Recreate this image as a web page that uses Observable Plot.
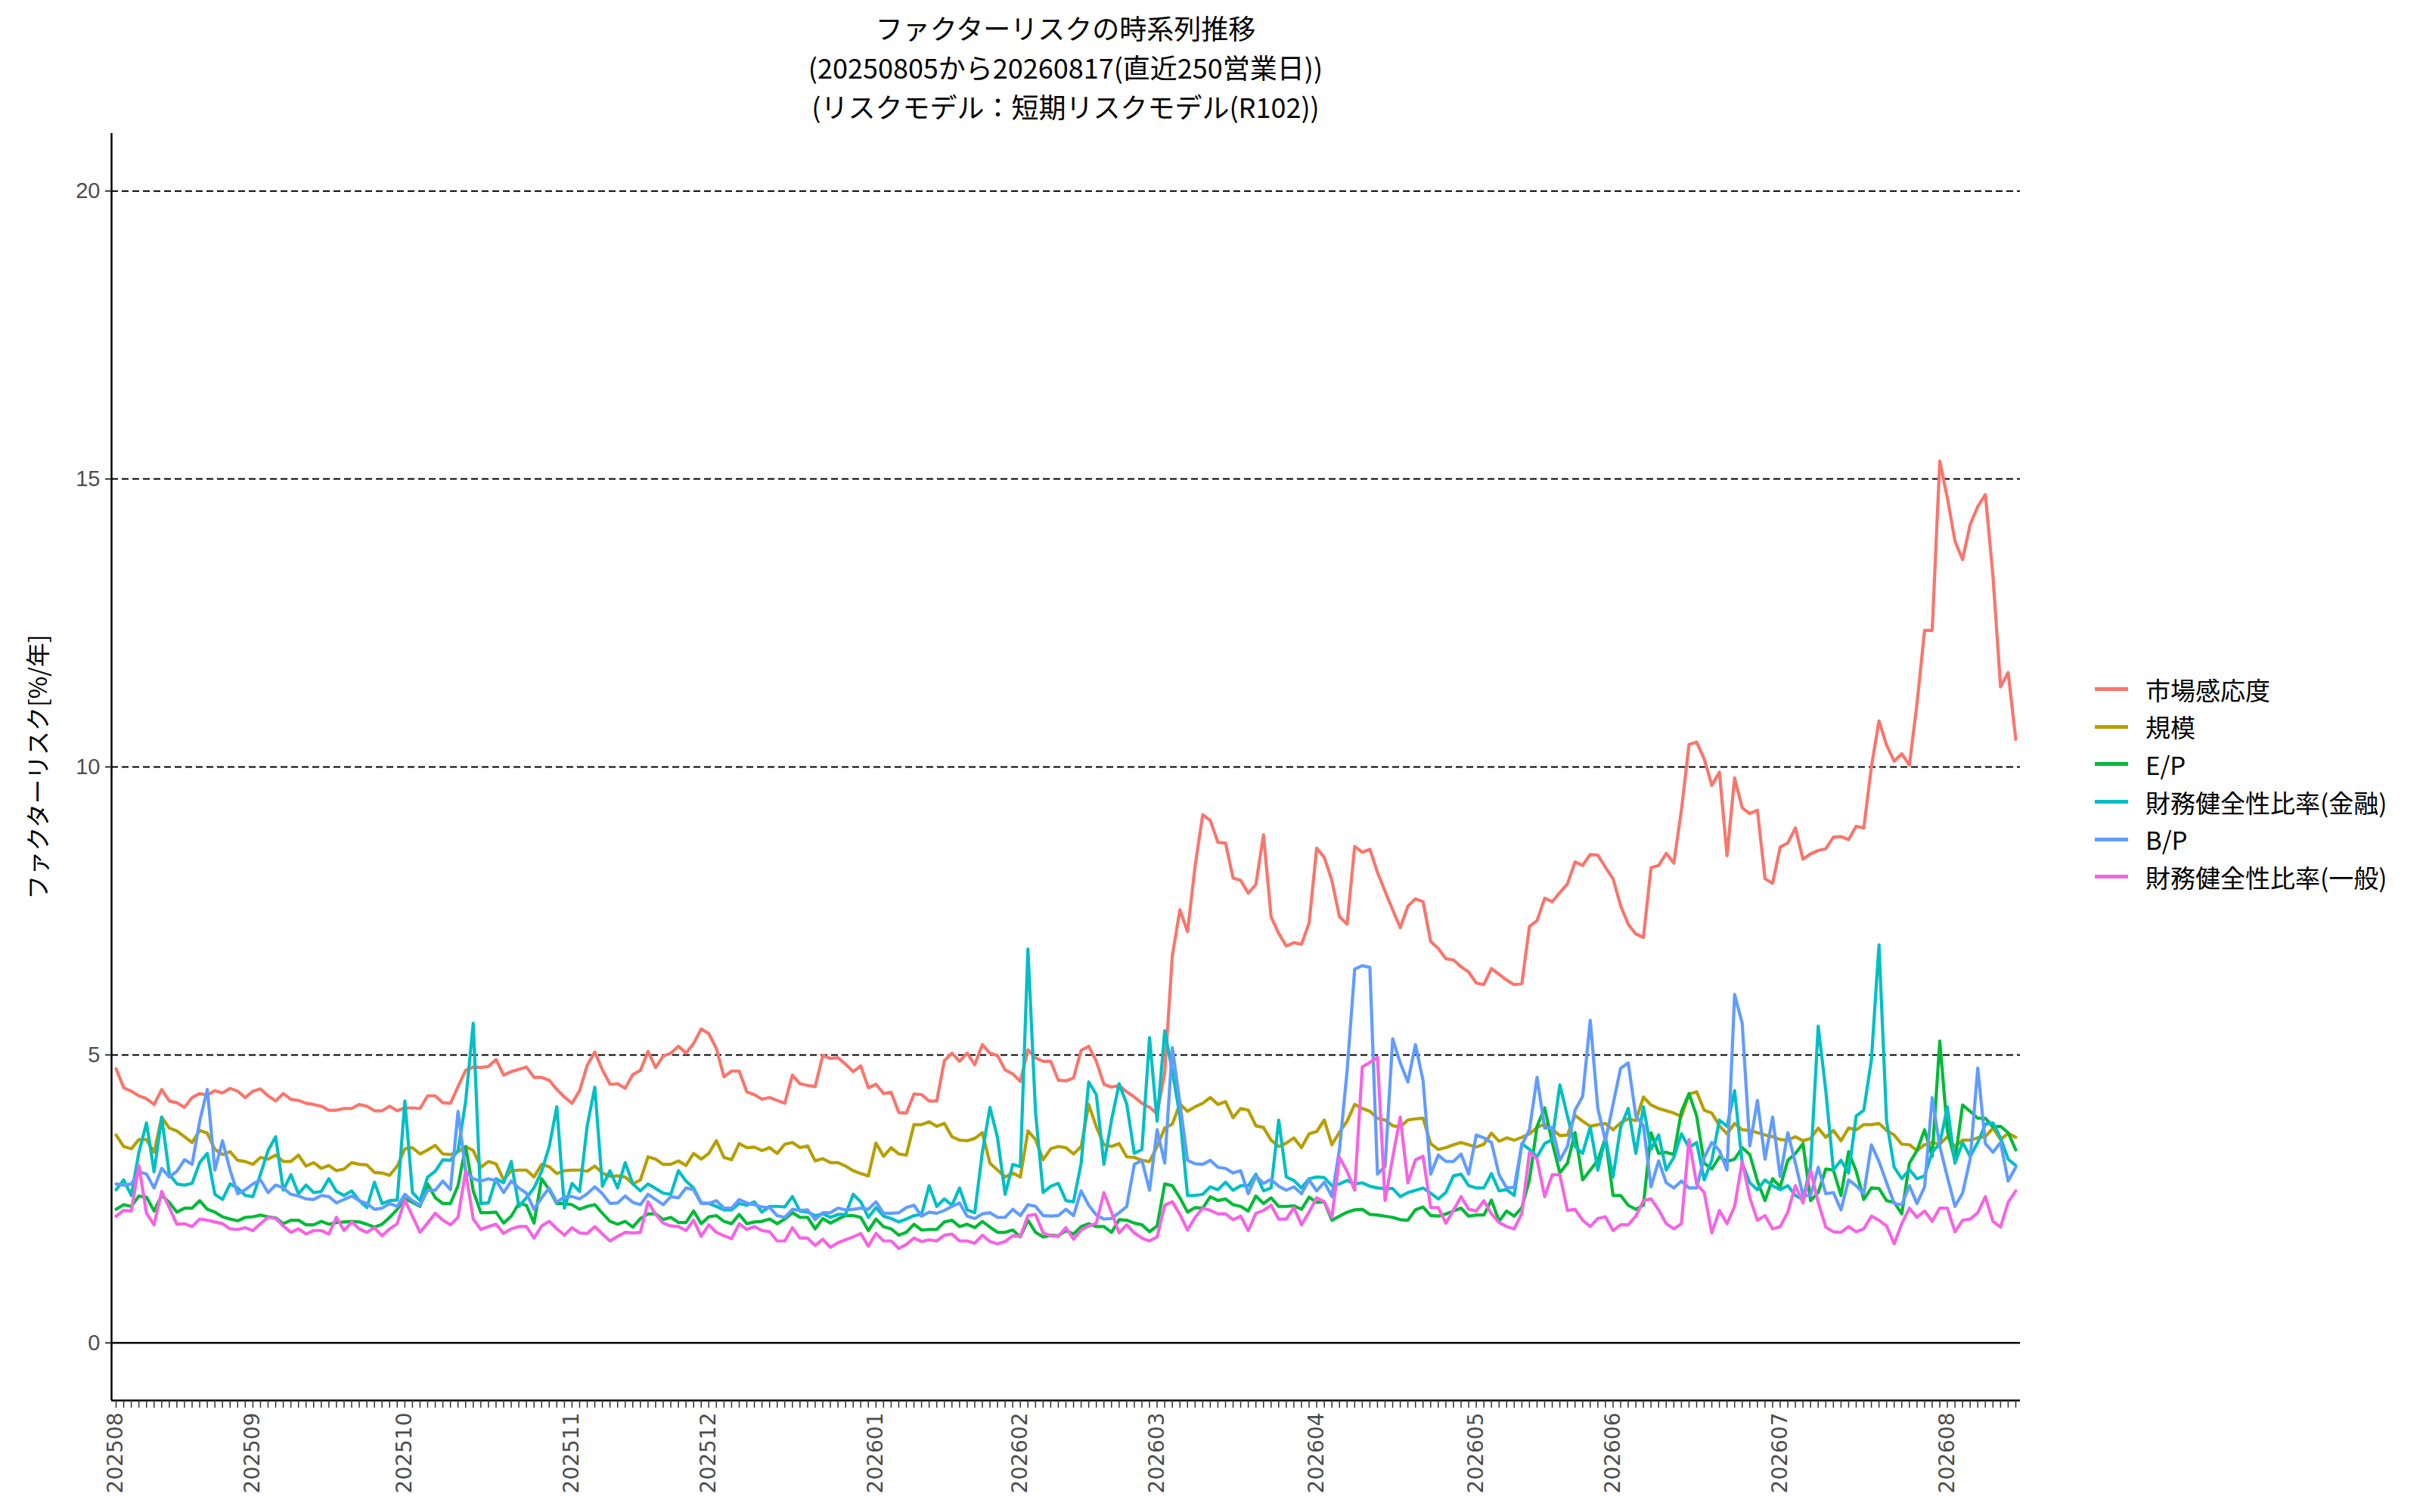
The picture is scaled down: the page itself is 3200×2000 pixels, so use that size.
<!DOCTYPE html>
<html><head><meta charset="utf-8">
<script src="https://cdn.jsdelivr.net/npm/d3@7"></script>
<script src="https://cdn.jsdelivr.net/npm/@observablehq/plot@0.6"></script>
<style>
html,body{margin:0;padding:0;background:#fff;}
#wrap{position:relative;width:3200px;height:2000px;font-family:"Noto Sans CJK JP","Noto Sans",sans-serif;background:#fff;}
#title{position:absolute;z-index:3;left:147px;width:2524px;top:10px;text-align:center;font-size:36px;line-height:52px;color:#000;}
#chart{position:absolute;z-index:1;left:0;top:150px;width:3200px;height:1850px;}
#legend{position:absolute;z-index:3;left:2770px;top:887px;font-size:33px;color:#000;}
.row{height:49.6px;display:flex;align-items:center;white-space:nowrap;}
.key{width:44px;height:5px;margin-right:23px;flex:none;}
</style></head>
<body><div id="wrap"><div id="chart"></div><div id="title"></div><div id="legend"></div></div>
<script>
const titleLines = ["ファクターリスクの時系列推移", "(20250805から20260817(直近250営業日))", "(リスクモデル：短期リスクモデル(R102))"];
const yTitle = "ファクターリスク[%/年]";
const seriesNames = ["市場感応度", "規模", "E/P", "財務健全性比率(金融)", "B/P", "財務健全性比率(一般)"];
const seriesColors = ["#F8766D", "#B79F00", "#00BA38", "#00BFC4", "#619CFF", "#F564E3"];
const yTicks = [0, 5, 10, 15, 20];
const dashedLevels = [5, 10, 15, 20];
const monthLabels = ["202508","202509","202510","202511","202512","202601","202602","202603","202604","202605","202606","202607","202608"];

const dates = ("20250805 20250806 20250807 20250808 20250812 20250813 20250814 20250815 20250818 20250819 20250820 20250821 20250822 20250825 20250826 20250827 20250828 20250829 " +
"20250901 20250902 20250903 20250904 20250905 20250908 20250909 20250910 20250911 20250912 20250916 20250917 20250918 20250919 20250922 20250924 20250925 20250926 20250929 20250930 " +
"20251001 20251002 20251003 20251006 20251007 20251008 20251009 20251010 20251014 20251015 20251016 20251017 20251020 20251021 20251022 20251023 20251024 20251027 20251028 20251029 20251030 20251031 " +
"20251104 20251105 20251106 20251107 20251110 20251111 20251112 20251113 20251114 20251117 20251118 20251119 20251120 20251121 20251125 20251126 20251127 20251128 " +
"20251201 20251202 20251203 20251204 20251205 20251208 20251209 20251210 20251211 20251212 20251215 20251216 20251217 20251218 20251219 20251222 20251223 20251224 20251225 20251226 20251229 20251230 " +
"20260105 20260106 20260107 20260108 20260109 20260113 20260114 20260115 20260116 20260119 20260120 20260121 20260122 20260123 20260126 20260127 20260128 20260129 20260130 " +
"20260202 20260203 20260204 20260205 20260206 20260209 20260210 20260212 20260213 20260216 20260217 20260218 20260219 20260220 20260224 20260225 20260226 20260227 " +
"20260302 20260303 20260304 20260305 20260306 20260309 20260310 20260311 20260312 20260313 20260316 20260317 20260318 20260319 20260323 20260324 20260325 20260326 20260327 20260330 20260331 " +
"20260401 20260402 20260403 20260406 20260407 20260408 20260409 20260410 20260413 20260414 20260415 20260416 20260417 20260420 20260421 20260422 20260423 20260424 20260427 20260428 20260430 " +
"20260501 20260507 20260508 20260511 20260512 20260513 20260514 20260515 20260518 20260519 20260520 20260521 20260522 20260525 20260526 20260527 20260528 20260529 " +
"20260601 20260602 20260603 20260604 20260605 20260608 20260609 20260610 20260611 20260612 20260615 20260616 20260617 20260618 20260619 20260622 20260623 20260624 20260625 20260626 20260629 20260630 " +
"20260701 20260702 20260703 20260706 20260707 20260708 20260709 20260710 20260713 20260714 20260715 20260716 20260717 20260721 20260722 20260723 20260724 20260727 20260728 20260729 20260730 20260731 " +
"20260803 20260804 20260805 20260806 20260807 20260810 20260812 20260813 20260814 20260817").split(" ");

const market = [
4.76,4.43,4.37,4.29,4.24,4.14,4.40,4.20,4.17,4.09,
4.26,4.33,4.30,4.38,4.34,4.42,4.37,4.26,4.37,4.41,
4.29,4.20,4.33,4.23,4.21,4.16,4.14,4.11,4.04,4.04,
4.07,4.07,4.14,4.11,4.03,4.03,4.11,4.03,4.08,4.08,
4.07,4.29,4.29,4.17,4.16,4.45,4.73,4.79,4.78,4.80,
4.92,4.65,4.71,4.75,4.79,4.61,4.61,4.56,4.40,4.27,
4.16,4.38,4.82,5.05,
4.74,4.49,4.50,4.42,4.66,4.73,5.06,4.78,4.98,5.03,
5.15,5.03,5.20,5.45,5.37,5.11,4.62,4.72,4.72,4.36,
4.31,4.23,4.26,4.21,4.16,4.65,4.50,4.47,4.45,4.99,
4.94,4.95,4.84,4.71,4.81,4.43,4.49,4.33,4.35,4.00,
3.99,4.32,4.31,4.20,4.20,4.90,5.03,4.89,5.03,4.83,
5.18,5.03,4.99,4.74,4.67,4.54,5.09,4.95,4.89,4.89,
4.56,4.55,4.60,5.08,
5.15,4.89,4.49,4.44,4.47,4.36,4.27,4.16,4.09,3.98,
4.69,6.72,7.52,7.14,8.28,9.17,9.07,8.69,8.68,8.07,
8.03,7.81,7.96,8.82,7.40,7.11,6.89,6.95,6.92,7.29,
8.59,8.43,8.03,7.40,7.27,8.62,8.52,8.57,8.17,7.84,
7.52,7.21,7.58,7.71,7.66,6.97,6.85,6.67,6.65,6.53,
6.44,6.25,6.22,6.50,6.40,6.30,6.22,6.24,7.23,7.33,
7.72,7.66,7.82,7.97,
8.35,8.29,8.48,8.47,8.26,8.06,7.59,7.27,7.10,7.04,
8.25,8.29,8.50,8.33,9.25,10.39,10.43,10.14,9.68,9.91,
8.46,9.81,9.29,9.19,9.25,8.06,7.98,8.61,8.68,8.94,
8.40,8.49,8.55,8.58,8.78,8.79,8.74,8.97,8.94,10.00,
10.80,10.38,10.10,10.23,10.03,11.10,12.37,12.37,15.31,14.67,
13.92,13.60,14.21,14.52,14.73,13.31,11.39,11.64,10.48];

const size = [
3.61,3.41,3.37,3.53,3.53,3.31,3.92,3.73,3.68,3.58,
3.48,3.69,3.64,3.36,3.27,3.32,3.17,3.15,3.10,3.22,
3.19,3.26,3.15,3.15,3.26,3.07,3.13,3.03,3.08,2.99,
3.02,3.13,3.10,3.09,2.96,2.95,2.91,3.07,3.37,3.39,
3.28,3.35,3.43,3.28,3.27,3.32,3.41,3.34,3.05,3.15,
3.11,2.83,2.99,3.00,3.00,2.88,3.10,3.06,2.94,2.99,
3.00,3.00,2.98,3.07,
2.95,2.89,2.90,2.88,2.76,2.83,3.23,3.19,3.10,3.10,
3.16,3.08,3.29,3.19,3.29,3.51,3.22,3.18,3.46,3.39,
3.40,3.34,3.39,3.29,3.45,3.48,3.39,3.42,3.16,3.20,
3.13,3.13,3.07,2.99,2.94,2.90,3.47,3.24,3.39,3.28,
3.26,3.79,3.79,3.84,3.76,3.81,3.58,3.52,3.51,3.55,
3.65,3.12,3.00,2.88,2.95,2.88,3.68,3.53,3.18,3.37,
3.41,3.39,3.28,3.41,
4.14,3.75,3.44,3.41,3.46,3.23,3.22,3.17,3.15,3.41,
3.73,3.80,4.15,4.02,4.10,4.16,4.26,4.14,4.19,3.91,
4.07,4.04,3.77,3.74,3.52,3.41,3.47,3.56,3.39,3.63,
3.67,3.87,3.44,3.66,3.85,4.14,4.07,4.02,3.90,3.87,
3.77,3.75,3.87,3.89,3.90,3.46,3.36,3.39,3.44,3.48,
3.44,3.40,3.45,3.64,3.50,3.56,3.52,3.57,3.63,3.74,
3.80,3.71,3.60,3.61,
3.95,3.85,3.76,3.79,3.81,3.70,3.82,3.89,3.86,4.27,
4.13,4.07,4.03,3.99,3.93,4.32,4.36,4.04,3.99,3.77,
3.63,3.81,3.70,3.69,3.65,3.61,3.58,3.53,3.52,3.58,
3.51,3.55,3.73,3.57,3.69,3.51,3.73,3.70,3.79,3.79,
3.81,3.69,3.61,3.45,3.44,3.34,3.44,3.48,3.45,3.58,
3.41,3.52,3.52,3.56,3.58,3.73,3.53,3.64,3.57];

const ep = [
2.32,2.40,2.37,2.55,2.53,2.29,2.56,2.44,2.27,2.34,
2.34,2.47,2.32,2.27,2.19,2.15,2.12,2.18,2.19,2.22,
2.19,2.17,2.07,2.13,2.13,2.05,2.05,2.11,2.06,2.09,
2.10,2.11,2.10,2.06,2.01,2.06,2.18,2.32,2.50,2.44,
2.37,2.76,2.52,2.42,2.42,2.73,3.41,2.64,2.26,2.26,
2.27,2.08,2.20,2.42,2.39,2.08,2.85,2.66,2.42,2.42,
2.40,2.32,2.37,2.40,
2.25,2.11,2.06,2.11,2.01,2.16,2.24,2.24,2.14,2.18,
2.09,2.09,2.29,2.07,2.19,2.21,2.11,2.07,2.23,2.07,
2.10,2.11,2.15,2.07,2.15,2.26,2.18,2.18,1.98,2.16,
2.08,2.15,2.21,2.21,2.18,1.95,2.15,2.02,1.98,1.87,
1.92,2.06,1.96,1.97,1.97,2.10,2.13,2.02,2.06,2.00,
2.11,2.01,1.92,1.92,1.96,1.84,2.13,1.92,1.84,1.87,
1.86,1.95,1.89,2.02,
2.07,2.02,2.02,1.92,2.14,2.13,2.08,2.05,1.93,2.03,
2.76,2.73,2.52,2.27,2.35,2.34,2.54,2.47,2.50,2.40,
2.37,2.29,2.55,2.42,2.52,2.37,2.37,2.38,2.32,2.53,
2.44,2.45,2.13,2.20,2.27,2.31,2.32,2.23,2.22,2.20,
2.18,2.14,2.13,2.31,2.36,2.21,2.20,2.24,2.29,2.34,
2.20,2.22,2.22,2.48,2.11,2.29,2.20,2.35,2.83,3.76,
4.08,3.48,2.95,3.12,
3.65,2.83,3.00,3.17,3.56,2.56,2.56,2.39,2.32,2.39,
3.65,3.29,3.31,3.27,4.02,4.33,3.94,3.12,3.02,3.23,
3.15,3.19,3.39,3.27,2.81,2.47,2.85,2.71,3.17,3.29,
3.46,2.47,2.61,3.02,3.00,2.56,3.32,2.98,2.49,2.69,
2.68,2.47,2.44,2.24,3.12,3.34,3.70,3.24,5.24,3.68,
3.17,4.13,4.02,3.90,3.90,3.75,3.76,3.65,3.35];

const finHealthFin = [
2.66,2.83,2.56,3.31,3.82,2.97,3.92,2.93,2.76,2.74,
2.77,3.13,3.29,2.58,2.49,2.76,2.69,2.56,2.54,2.93,
3.34,3.58,2.65,2.92,2.59,2.74,2.61,2.63,2.85,2.63,
2.56,2.64,2.47,2.35,2.79,2.42,2.47,2.48,4.20,2.61,
2.47,2.88,2.98,3.18,3.17,3.34,4.19,5.55,2.42,2.43,
2.85,2.78,3.15,2.37,2.52,2.69,2.98,3.41,4.10,2.34,
2.77,2.63,3.77,4.44,
2.72,2.99,2.69,3.13,2.76,2.64,2.76,2.68,2.60,2.58,
2.99,2.81,2.69,2.43,2.42,2.37,2.31,2.31,2.42,2.39,
2.45,2.27,2.37,2.37,2.36,2.54,2.29,2.27,2.21,2.24,
2.18,2.23,2.23,2.58,2.45,2.18,2.35,2.20,2.16,2.10,
2.15,2.21,2.23,2.73,2.37,2.50,2.39,2.69,2.31,2.26,
3.31,4.09,3.56,2.58,3.10,3.06,6.84,4.00,2.61,2.72,
2.77,2.47,2.45,3.12,
4.53,4.31,3.10,3.87,4.50,4.15,3.29,3.36,5.30,3.85,
5.42,4.72,3.94,2.56,2.56,2.58,2.71,2.66,2.79,2.65,
2.73,2.73,2.93,2.64,2.69,3.87,2.88,2.82,2.69,2.85,
2.88,2.87,2.73,2.76,2.82,2.76,2.78,2.72,2.69,2.68,
2.68,2.54,2.61,2.65,2.69,2.60,2.50,2.61,2.90,2.93,
2.73,2.69,2.69,2.94,2.64,2.66,2.56,3.46,3.36,3.23,
3.46,3.53,4.48,3.94,
3.41,3.29,3.75,3.00,3.56,2.88,3.75,4.07,3.29,4.10,
3.36,3.61,3.00,3.22,3.63,3.39,3.48,2.83,3.17,3.87,
3.76,4.38,3.12,2.78,2.66,2.83,2.73,2.66,2.73,2.56,
2.49,3.07,5.50,4.38,3.00,3.17,2.95,3.94,4.04,4.91,
6.91,3.85,3.05,2.85,3.01,2.85,2.90,3.31,3.46,4.10,
3.12,3.48,3.24,3.48,3.80,3.82,3.56,3.19,3.08];

const bp = [
2.76,2.74,2.76,2.97,2.93,2.69,3.03,2.88,2.98,3.18,
3.10,3.85,4.40,3.00,3.51,3.00,2.59,2.66,2.76,2.83,
2.61,2.74,2.69,2.58,2.55,2.50,2.49,2.56,2.54,2.43,
2.49,2.55,2.47,2.42,2.32,2.34,2.42,2.37,2.58,2.47,
2.39,2.65,2.65,2.81,2.66,4.02,2.98,2.85,2.81,2.85,
2.82,2.61,2.81,2.69,2.60,2.32,2.52,2.69,2.44,2.54,
2.54,2.50,2.59,2.71,
2.59,2.42,2.43,2.55,2.44,2.40,2.58,2.49,2.40,2.54,
2.52,2.69,2.66,2.42,2.42,2.47,2.34,2.34,2.49,2.43,
2.40,2.36,2.35,2.21,2.18,2.32,2.30,2.31,2.14,2.26,
2.26,2.34,2.31,2.32,2.34,2.32,2.45,2.25,2.25,2.26,
2.35,2.39,2.20,2.27,2.25,2.30,2.37,2.43,2.20,2.16,
2.24,2.26,2.18,2.18,2.32,2.21,2.40,2.37,2.21,2.20,
2.21,2.32,2.21,2.64,
2.39,2.22,2.15,2.16,2.26,2.37,3.10,3.17,2.65,3.70,
3.12,5.13,4.16,3.17,3.11,3.10,3.17,3.05,3.03,2.95,
2.99,2.59,2.90,2.77,2.84,2.72,2.65,2.71,2.59,2.83,
2.64,2.79,2.54,3.36,4.72,6.49,6.55,6.52,2.93,3.07,
5.28,4.86,4.53,5.18,4.55,2.93,3.26,3.15,3.15,3.28,
2.93,3.61,3.56,3.48,2.92,2.69,2.70,3.44,3.70,4.61,
3.73,3.74,3.17,3.41,
4.04,4.28,5.60,4.07,3.51,4.14,4.77,4.86,3.94,3.77,
2.71,3.16,2.78,2.69,2.81,2.69,2.69,3.22,3.48,3.34,
3.00,6.05,5.55,3.42,4.21,3.19,3.92,2.89,3.65,3.12,
2.56,2.56,3.05,2.59,2.61,2.31,2.83,2.73,2.59,3.44,
3.15,2.78,2.42,2.40,2.73,2.42,2.71,4.26,3.41,2.88,
2.37,2.60,3.19,4.77,3.46,3.31,3.48,2.81,3.05];

const finHealthGen = [
2.20,2.30,2.29,3.08,2.25,2.05,2.63,2.35,2.06,2.07,
2.02,2.15,2.13,2.10,2.07,1.98,1.97,2.00,1.95,2.07,
2.18,2.16,2.03,1.92,1.98,1.89,1.95,1.95,1.89,2.18,
1.95,2.10,1.98,1.92,2.00,1.86,1.98,2.07,2.48,2.20,
1.92,2.08,2.25,2.13,2.05,2.18,2.98,2.15,1.97,2.02,
2.06,1.90,1.98,2.02,2.02,1.82,2.03,2.11,1.98,1.87,
2.00,1.91,1.90,2.02,
1.89,1.77,1.85,1.92,1.91,1.92,2.45,2.23,2.08,2.03,
2.02,1.95,2.13,1.85,2.05,1.92,1.86,1.81,2.07,1.97,
2.02,1.95,1.93,1.77,1.77,2.00,1.82,1.82,1.69,1.80,
1.66,1.74,1.79,1.84,1.90,1.68,1.90,1.77,1.77,1.64,
1.71,1.82,1.76,1.79,1.77,1.87,1.89,1.77,1.77,1.73,
1.87,1.76,1.72,1.76,1.86,1.85,2.21,2.23,1.91,1.86,
1.85,2.00,1.80,1.96,
2.03,2.08,2.61,2.27,1.91,2.05,1.91,1.82,1.77,1.84,
2.39,2.45,2.23,1.96,2.18,2.34,2.30,2.24,2.24,2.14,
2.20,1.95,2.25,2.30,2.39,2.15,2.15,2.35,2.05,2.27,
2.52,2.45,2.18,3.22,2.98,2.65,4.79,4.87,4.96,2.47,
3.22,3.92,2.78,3.18,3.24,2.35,2.35,2.08,2.30,2.54,
2.32,2.29,2.47,2.24,2.09,2.02,1.98,2.25,3.31,3.19,
2.54,2.92,2.92,2.30,
2.32,2.13,2.02,2.16,2.19,1.95,2.05,2.05,2.20,2.47,
2.50,2.31,2.07,1.98,2.07,3.53,2.76,2.61,1.91,2.30,
2.07,2.37,3.15,2.52,2.13,2.21,1.98,2.02,2.27,2.73,
2.43,3.00,2.44,2.01,1.93,1.92,2.02,1.93,1.98,2.20,
2.13,2.03,1.72,2.07,2.34,2.18,2.29,2.11,2.34,2.34,
1.93,2.13,2.15,2.26,2.54,2.11,2.01,2.44,2.64];

const seriesValues = [market, size, ep, finHealthFin, bp, finHealthGen];

// long table for Plot
const rows = seriesNames.flatMap((name, k) =>
  seriesValues[k].map((v, i) => ({i, date: dates[i], series: name, value: v})));

const tickLabelAt = new Map(monthLabels.map(m => [dates.findIndex(d => d.startsWith(m)), m]));

document.getElementById("title").innerHTML = titleLines.map(t => `<div>${t}</div>`).join("");

const chart = Plot.plot({
  width: 3200,
  height: 1850,
  marginLeft: 147,
  marginRight: 529,
  marginTop: 26,
  marginBottom: 148,
  style: {fontFamily: "DejaVu Sans", background: "transparent", overflow: "visible"},
  x: {type: "linear", domain: [-0.6, dates.length - 0.4], axis: null},
  y: {domain: [-1, 21], axis: null},
  color: {domain: seriesNames, range: seriesColors},
  marks: [
    Plot.ruleY(dashedLevels, {stroke: "black", strokeWidth: 2, strokeDasharray: "9,5"}),
    Plot.ruleY([0], {stroke: "black", strokeWidth: 2.5}),
    Plot.lineY(rows, {x: "i", y: "value", z: "series", stroke: "series", strokeWidth: 4.2}),
    Plot.ruleX([-0.6], {stroke: "black", strokeWidth: 2.5}),
    Plot.ruleY([-1], {stroke: "black", strokeWidth: 2.5}),
    Plot.axisY({ticks: yTicks, label: null, tickSize: 8, tickPadding: 7, fontSize: 29,
      fontFamily: "Liberation Sans", fill: "#4d4d4d", stroke: "#333333", strokeWidth: 2}),
    Plot.axisX({ticks: d3.range(dates.length), label: null, tickSize: 10, tickPadding: 6, tickRotate: -90,
      tickFormat: i => tickLabelAt.get(i) ?? "", fontSize: 28, fill: "#4d4d4d", stroke: "#333333", strokeWidth: 1.5}),
    Plot.text([yTitle], {frameAnchor: "left", rotate: -90, dx: -96, textAnchor: "middle", fontSize: 32,
      fontFamily: "Noto Sans CJK JP", fill: "black"})
  ]
});
document.getElementById("chart").appendChild(chart);

const legend = document.getElementById("legend");
seriesNames.forEach((name, k) => {
  const row = document.createElement("div");
  row.className = "row";
  row.innerHTML = `<span class="key" style="background:${seriesColors[k]}"></span><span>${name}</span>`;
  legend.appendChild(row);
});
</script>
</body></html>
